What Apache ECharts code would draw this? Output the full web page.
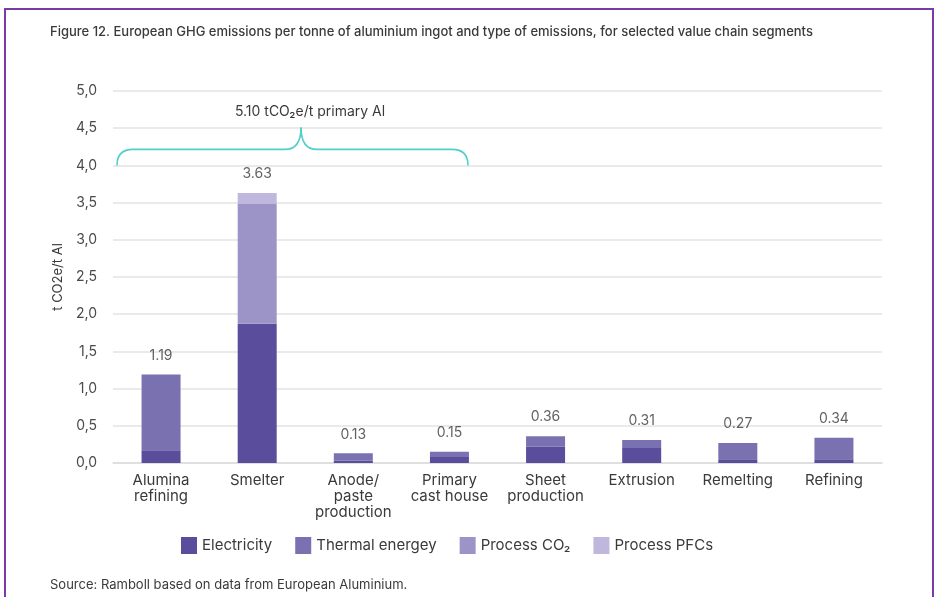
<!DOCTYPE html>
<html>
<head>
<meta charset="utf-8">
<script src="https://cdn.jsdelivr.net/npm/echarts@6/dist/echarts.min.js"></script>
<style>
  html, body { margin: 0; padding: 0; background: #fff; }
  #chart { width: 938px; height: 597px; }
</style>
</head>
<body>
<div id="chart"></div>
<script>
// Value chain segments (x axis)
const categories = ['Alumina\nrefining', 'Smelter', 'Anode/\npaste\nproduction', 'Primary\ncast house',
  'Sheet\nproduction', 'Extrusion', 'Remelting', 'Refining'];

// Emissions by type, t CO2e per tonne of Al
const electricity   = [0.17, 1.87, 0.03, 0.08, 0.22, 0.20, 0.05, 0.05];
const thermalEnergy = [1.02, 0,    0.10, 0.07, 0.14, 0.11, 0.22, 0.29];
const processCO2    = [0,    1.61, 0,    0,    0,    0,    0,    0];
const processPFCs   = [0,    0.15, 0,    0,    0,    0,    0,    0];

// Segment totals shown above each bar
const totals = categories.map((_, i) =>
  +(electricity[i] + thermalEnergy[i] + processCO2[i] + processPFCs[i]).toFixed(2));

const yTicks = { min: 0, max: 5, interval: 0.5 };
const primaryTotalLabel = '5.10 tCO₂e/t primary Al';

const FONT = 'Inter, "Noto Sans", sans-serif';
const TEXT = '#3a3a3a';
const colors = ['#5a4d9c', '#7a71b0', '#9c94c6', '#bfb8dc'];

const chart = echarts.init(document.getElementById('chart'));

function stackSeries(name, data, color) {
  return {
    name, type: 'bar', stack: 'total', data, barWidth: 39,
    itemStyle: { color }, emphasis: { disabled: true }
  };
}

chart.setOption({
  animation: false,
  textStyle: { fontFamily: FONT },
  title: {
    text: 'Figure 12. European GHG emissions per tonne of aluminium ingot and type of emissions, for selected value chain segments',
    left: 45, top: 21,
    textStyle: { fontSize: 13, fontWeight: 500, color: TEXT, fontFamily: FONT }
  },
  grid: { left: 113, right: 56, top: 91, bottom: 134 },
  legend: {
    data: ['Electricity', 'Thermal energey', 'Process CO₂', 'Process PFCs'],
    left: 176, top: 532,
    itemWidth: 16, itemHeight: 17, itemGap: 23,
    icon: 'rect',
    textStyle: { fontSize: 15, color: TEXT, fontFamily: FONT }
  },
  xAxis: {
    type: 'category', data: categories,
    axisLine: { lineStyle: { color: '#dcdcdc', width: 1.5 } },
    axisTick: { show: false },
    axisLabel: { fontSize: 15, color: TEXT, lineHeight: 16, margin: 9, interval: 0 }
  },
  yAxis: {
    type: 'value', min: yTicks.min, max: yTicks.max, interval: yTicks.interval,
    name: 't CO2e/t Al', nameLocation: 'middle', nameGap: 48, nameRotate: 90,
    nameTextStyle: { fontSize: 13, color: TEXT },
    axisLabel: {
      fontSize: 14, color: '#4a4a4a', margin: 16,
      formatter: v => v.toFixed(1).replace('.', ',')
    },
    splitLine: { lineStyle: { color: '#e3e3e3', width: 1.5 } }
  },
  series: [
    stackSeries('Electricity', electricity, colors[0]),
    stackSeries('Thermal energey', thermalEnergy, colors[1]),
    stackSeries('Process CO₂', processCO2, colors[2]),
    stackSeries('Process PFCs', processPFCs, colors[3]),
    {
      name: 'Total', type: 'scatter', data: totals, symbolSize: 0,
      silent: true,
      label: {
        show: true, position: 'top', distance: 12,
        fontSize: 14, color: TEXT,
        formatter: p => p.value.toFixed(2)
      }
    }
  ]
});

// Brace spanning the primary aluminium segments, its feet at the 4.0 level
const yEnd = chart.convertToPixel({ yAxisIndex: 0 }, 4.0);
const xL = 117, xR = 468, xM = 301;
const yBar = yEnd - 16, yTip = yEnd - 38, r = 16;
const braceStyle = { fill: 'none', stroke: '#4fd0cc', lineWidth: 1.6 };
const curve = (x1, y1, cx, cy, x2, y2) => ({
  type: 'bezierCurve', silent: true,
  shape: { x1, y1, cpx1: cx, cpy1: cy, x2, y2 }, style: braceStyle
});
const line = (x1, y1, x2, y2) => ({
  type: 'line', silent: true, shape: { x1, y1, x2, y2 }, style: braceStyle
});

chart.setOption({
  graphic: [
    {
      type: 'rect', silent: true,
      shape: { x: 5, y: 9, width: 928, height: 620 },
      style: { fill: 'none', stroke: '#7a3aa8', lineWidth: 2 }
    },
    {
      type: 'text', silent: true, x: 50, y: 585,
      style: { text: 'Source: Ramboll based on data from European Aluminium.', fontSize: 13, fill: TEXT, fontFamily: FONT, verticalAlign: 'middle' }
    },
    curve(xL, yEnd, xL, yBar, xL + r, yBar),
    line(xL + r, yBar, xM - r, yBar),
    curve(xM - r, yBar, xM, yBar, xM, yTip),
    curve(xM, yTip, xM, yBar, xM + r, yBar),
    line(xM + r, yBar, xR - r, yBar),
    curve(xR - r, yBar, xR, yBar, xR, yEnd),
    {
      type: 'text', silent: true,
      x: 310, y: yTip - 16,
      style: { text: primaryTotalLabel, fontSize: 14, fill: TEXT, fontFamily: FONT, align: 'center', verticalAlign: 'middle' }
    }
  ]
});
</script>
</body>
</html>
